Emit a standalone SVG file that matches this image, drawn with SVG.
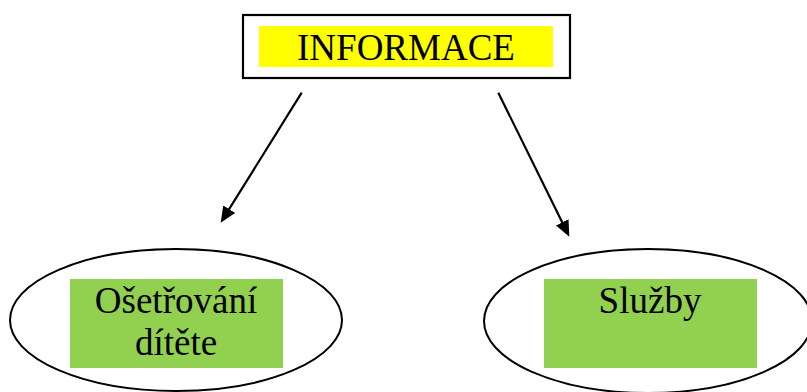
<svg xmlns="http://www.w3.org/2000/svg" width="807" height="392" viewBox="0 0 807 392">
  <style>
    .label { font-family: "Liberation Serif", "Times New Roman", serif; font-size: 37px; fill: #000; text-anchor: middle; }
    .oval { fill: #fff; stroke: #000; stroke-width: 2; }
    .green { fill: #92d050; }
    .conn { stroke: #000; stroke-width: 2.2; fill: none; marker-end: url(#arrow); }
  </style>
  <defs>
    <marker id="arrow" markerUnits="userSpaceOnUse" markerWidth="18" markerHeight="15" refX="6" refY="7" orient="auto">
      <path d="M0,0 L16,7 L0,14 z" fill="#000"/>
    </marker>
  </defs>
  <rect width="807" height="392" fill="#fff"/>

  <g id="informace">
    <rect x="243" y="15" width="327" height="63" fill="#fff" stroke="#000" stroke-width="2.2"/>
    <rect x="259" y="26" width="294" height="41" fill="#ffff00"/>
    <text class="label" x="406" y="60">INFORMACE</text>
  </g>

  <g id="osetrovani">
    <ellipse class="oval" cx="176" cy="320" rx="166" ry="71"/>
    <rect class="green" x="70" y="279" width="213" height="89"/>
    <text class="label" x="176" y="313">Ošetřování</text>
    <text class="label" x="176" y="355">dítěte</text>
  </g>

  <g id="sluzby">
    <ellipse class="oval" cx="648" cy="321" rx="164" ry="72"/>
    <rect class="green" x="544" y="279" width="213" height="89"/>
    <text class="label" x="650" y="313">Služby</text>
  </g>

  <g id="connectors">
    <line class="conn" x1="301.7" y1="92.7" x2="226" y2="214.2"/>
    <line class="conn" x1="498.3" y1="92.7" x2="564.9" y2="227.7"/>
  </g>
</svg>
